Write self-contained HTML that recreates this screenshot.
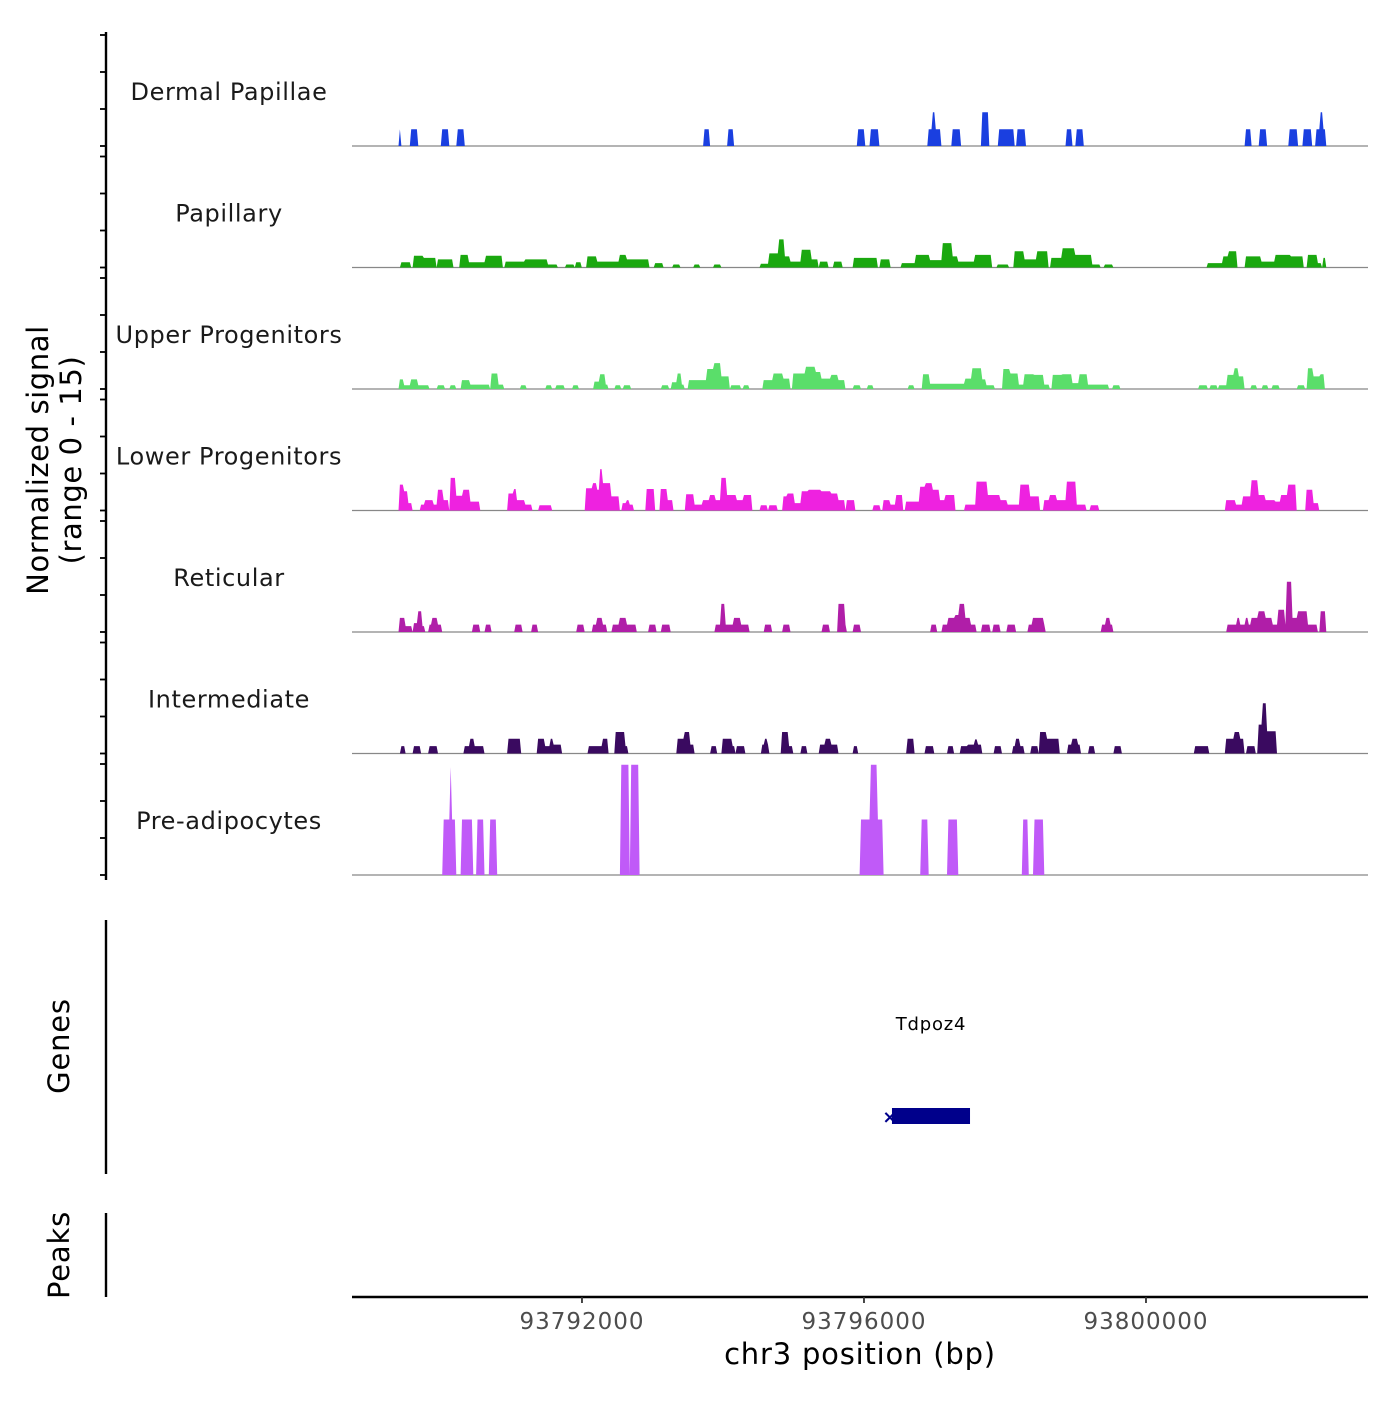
<!DOCTYPE html>
<html><head><meta charset="utf-8"><style>
body{margin:0;background:#fff}
svg text{font-family:"DejaVu Sans","Liberation Sans",sans-serif}
</style></head><body>
<svg id="chart" width="1400" height="1400" xmlns="http://www.w3.org/2000/svg">
<g id="tracks"></g>
<g id="axes"></g>
</svg>
<script>
const regionStart = 93788738;
const regionEnd = 93803149;
const xTicks = [93792000, 93796000, 93800000];
const xTickLabels = ["93792000", "93796000", "93800000"];
const trackNames = ["Dermal Papillae","Papillary","Upper Progenitors","Lower Progenitors","Reticular","Intermediate","Pre-adipocytes"];
const trackColors = ["#1a3fe0","#1aa80f","#5ade6a","#ee22e0","#b01ea8","#3a0a60","#c05af8"];
const yTickValues = [0,5,10,15];
// segments: [startOffsetBp, endOffsetBp, value]
const dermal = [[666,693,2.25],[832,925,2.25],[1276,1368,2.25],[1498,1600,2.25],[4993,5076,2.25],[5326,5418,2.25],[7175,7277,2.25],[7360,7462,2.25],[8164,8349,2.25],[8230,8280,4.55],[8506,8636,2.25],[8922,9033,4.55],[9172,9385,2.25],[9440,9542,2.25],[10134,10217,2.25],[10272,10365,2.25],[12667,12759,2.25],[12870,12963,2.25],[13296,13407,2.25],[13499,13601,2.25],[13675,13804,2.25],[13730,13780,4.55]];
const papillary = [[684,832,0.7],[878,1017,1.6],[1017,1183,1.3],[1220,1433,1.1],[1535,1646,1.7],[1646,1895,0.7],[1895,2127,1.6],[2173,2450,0.8],[2450,2774,1.1],[2774,2912,0.4],[3033,3144,0.4],[3162,3255,0.7],[3329,3467,1.5],[3467,3791,0.8],[3791,3883,1.7],[3883,4207,1.1],[4299,4420,0.6],[4549,4641,0.4],[4854,4928,0.4],[5132,5224,0.4],[5797,5917,0.5],[5917,6056,1.9],[6056,6121,3.8],[6121,6213,1.5],[6213,6380,0.8],[6380,6518,2.4],[6518,6611,1.1],[6639,6750,0.8],[6824,6953,0.8],[7101,7304,1.3],[7304,7443,1.3],[7489,7637,1.1],[7794,7998,0.6],[7998,8183,1.7],[8183,8368,1.0],[8368,8506,3.3],[8506,8599,1.5],[8599,8830,0.8],[8830,9061,1.7],[9154,9320,0.4],[9385,9524,2.2],[9524,9708,1.1],[9708,9875,2.2],[9912,10078,1.3],[10078,10245,2.6],[10245,10494,1.7],[10494,10614,0.4],[10679,10799,0.4],[12140,12343,0.6],[12343,12436,1.5],[12436,12547,2.2],[12667,12898,1.5],[12898,13083,0.8],[13083,13314,1.7],[13314,13481,1.5],[13545,13684,1.7],[13684,13758,0.6],[13777,13804,1.3]];
const upper = [[666,740,1.3],[740,832,0.5],[832,925,1.3],[925,1091,0.5],[1220,1313,0.5],[1387,1479,0.5],[1553,1664,1.2],[1664,1942,0.6],[1969,2080,2.1],[2080,2145,0.6],[2385,2478,0.5],[2746,2829,0.5],[2894,3005,0.5],[3125,3208,0.5],[3421,3513,1.0],[3513,3587,2.0],[3587,3634,0.6],[3726,3809,0.5],[3856,3957,0.5],[4392,4484,0.5],[4531,4605,0.9],[4605,4669,2.1],[4669,4715,0.6],[4780,5039,1.2],[5039,5132,2.7],[5132,5224,3.5],[5224,5344,1.7],[5363,5501,0.5],[5548,5640,0.5],[5825,5964,1.2],[5964,6102,2.1],[6102,6213,1.4],[6250,6426,2.1],[6426,6565,3.0],[6565,6657,2.3],[6657,6796,1.4],[6796,6888,1.9],[6888,6999,1.2],[7119,7212,0.5],[7304,7397,0.5],[7887,7979,0.5],[8099,8192,2.0],[8192,8691,0.7],[8691,8784,1.4],[8784,8922,2.8],[8922,8987,1.3],[8987,9107,0.5],[9228,9338,2.7],[9338,9449,2.1],[9449,9523,0.6],[9523,9662,2.0],[9662,9801,1.9],[9801,9893,0.6],[9939,10078,1.9],[10078,10217,2.0],[10217,10309,0.8],[10309,10429,2.0],[10429,10725,0.6],[10799,10892,0.5],[12020,12131,0.5],[12177,12279,0.5],[12297,12408,0.5],[12408,12501,1.9],[12501,12575,2.8],[12575,12649,1.7],[12741,12833,0.5],[12907,12991,0.5],[13055,13148,0.5],[13407,13518,0.5],[13545,13638,2.8],[13638,13731,1.7],[13731,13795,2.0]];
const lower = [[666,721,3.5],[721,786,2.6],[786,851,1.0],[962,1036,0.8],[1036,1156,1.4],[1156,1220,0.8],[1220,1294,2.8],[1294,1368,1.4],[1387,1479,4.4],[1479,1572,2.0],[1572,1664,2.8],[1664,1812,1.2],[2219,2293,2.3],[2293,2339,2.9],[2339,2450,1.4],[2450,2543,0.8],[2654,2829,0.7],[3301,3403,3.0],[3403,3467,3.7],[3467,3513,2.8],[3513,3560,5.6],[3560,3680,3.7],[3680,3791,1.9],[3828,3883,1.0],[3883,3930,1.4],[3930,3994,0.8],[4179,4299,2.9],[4373,4466,2.9],[4466,4549,1.4],[4734,4854,2.2],[4854,4974,0.8],[4974,5067,1.4],[5067,5159,2.1],[5159,5224,1.4],[5224,5316,4.4],[5316,5455,2.1],[5455,5548,1.4],[5548,5677,2.1],[5797,5899,0.7],[5917,6028,0.7],[6102,6176,1.9],[6176,6269,2.3],[6269,6380,1.0],[6380,6472,2.6],[6472,6657,2.8],[6657,6796,2.6],[6796,6888,2.3],[6888,6981,1.4],[7008,7138,1.4],[7397,7489,0.7],[7535,7628,1.4],[7628,7720,0.8],[7720,7813,2.1],[7841,8044,1.2],[8044,8136,3.2],[8136,8229,3.7],[8229,8321,2.8],[8321,8414,1.4],[8414,8543,2.1],[8691,8858,0.8],[8858,9015,3.9],[9015,9200,2.1],[9200,9292,1.4],[9292,9477,0.8],[9477,9616,3.5],[9616,9755,1.9],[9801,9893,1.4],[9893,9986,2.1],[9986,10124,1.4],[10124,10263,3.9],[10263,10402,0.8],[10476,10587,0.7],[12390,12528,1.4],[12528,12621,0.8],[12621,12759,1.9],[12759,12851,4.1],[12851,12944,2.1],[12944,13083,1.4],[13083,13176,1.2],[13176,13268,2.1],[13268,13388,3.5],[13527,13638,2.8],[13638,13712,1.0]];
const reticular = [[666,758,1.9],[758,851,0.8],[869,925,1.2],[925,999,2.8],[999,1036,0.8],[1082,1128,1.0],[1128,1220,1.9],[1220,1267,1.0],[1711,1803,1.0],[1895,1979,1.0],[2312,2404,1.0],[2543,2626,1.0],[3181,3292,1.0],[3403,3467,1.0],[3467,3560,1.9],[3560,3606,1.0],[3698,3791,1.0],[3791,3883,1.9],[3883,4022,1.0],[4216,4309,1.0],[4392,4512,1.0],[5150,5224,1.0],[5224,5289,3.8],[5289,5409,1.0],[5409,5520,1.9],[5520,5640,1.0],[5853,5945,1.0],[6102,6213,1.0],[6666,6768,1.0],[6888,6981,3.8],[6981,7008,1.0],[7119,7212,1.0],[8201,8294,1.0],[8368,8460,1.0],[8460,8553,1.9],[8553,8617,2.3],[8617,8691,3.8],[8691,8765,1.9],[8765,8858,1.0],[8932,9043,1.0],[9089,9191,1.0],[9292,9403,1.0],[9597,9644,1.0],[9644,9801,1.9],[9801,9838,1.0],[10633,10698,1.0],[10698,10744,1.9],[10744,10790,1.0],[12408,12759,1.0],[12547,12593,1.9],[12667,12704,1.9],[12759,12851,1.9],[12851,12944,2.8],[12944,13055,1.9],[13055,13129,1.0],[13129,13222,3.0],[13222,13249,1.0],[13249,13333,6.8],[13333,13407,1.9],[13407,13545,2.8],[13545,13684,1.0],[13740,13804,2.8]];
const intermediate = [[684,758,1.0],[869,971,1.0],[1091,1202,1.0],[1600,1664,1.0],[1664,1738,2.0],[1738,1877,1.0],[2219,2385,2.0],[2626,2737,2.0],[2737,2801,1.0],[2801,2848,2.0],[2848,2977,1.2],[3347,3560,1.0],[3560,3624,2.0],[3726,3865,2.9],[3865,3902,1.0],[4605,4715,2.0],[4715,4789,2.9],[4789,4854,1.2],[5085,5178,1.0],[5242,5381,2.0],[5381,5437,1.0],[5455,5566,1.0],[5806,5917,1.2],[5843,5899,2.0],[6084,6195,2.9],[6195,6241,1.0],[6380,6454,1.0],[6639,6888,1.2],[6703,6796,2.0],[7101,7175,1.0],[7878,7970,2.0],[8136,8247,1.0],[8442,8534,1.0],[8627,8737,1.0],[8737,8922,1.2],[8830,8876,1.9],[9107,9218,1.0],[9366,9523,1.0],[9412,9477,2.0],[9634,9727,1.0],[9755,9847,2.9],[9847,10032,2.0],[10152,10337,1.2],[10208,10282,2.0],[10448,10540,1.0],[10818,10910,1.0],[11946,12158,1.0],[12390,12501,2.0],[12501,12593,2.9],[12593,12649,2.0],[12686,12806,1.0],[12851,12907,3.9],[12907,12963,6.8],[12963,13101,3.0]];
const preadipocytes = [[1294,1479,7.5],[1390,1420,14.6],[1553,1711,7.5],[1775,1877,7.5],[1960,2053,7.5],[3809,3930,14.9],[3957,4077,14.9],[7212,7351,7.5],[7351,7443,14.9],[7443,7526,7.5],[8072,8164,7.5],[8460,8599,7.5],[9505,9597,7.5],[9672,9801,7.5]];
const geneName = "Tdpoz4";
const geneStart = 93796397;
const geneEnd = 93797504;

const NS = "http://www.w3.org/2000/svg";
const plotL = 352, plotR = 1368;
function xScale(bp){ return plotL + (bp - regionStart) / (regionEnd - regionStart) * (plotR - plotL); }
const baselines = [146, 267.5, 389, 510.5, 632, 753.5, 875];
const pxPerUnit = 7.4;
function yScale(v, t){ return baselines[t] - v * pxPerUnit; }
function mk(tag, attrs, parent){ const e = document.createElementNS(NS, tag); for (const k in attrs) e.setAttribute(k, attrs[k]); parent.appendChild(e); return e; }

const tracksG = document.getElementById('tracks');
const axesG = document.getElementById('axes');
const allData = [dermal, papillary, upper, lower, reticular, intermediate, preadipocytes];
const step = 20;
allData.forEach((segs, t) => {
  const g = mk('g', {}, tracksG);
  
  
  const lbl = mk('text', {x: 229, y: baselines[t] - 46, 'text-anchor': 'middle', 'font-size': 24, 'letter-spacing': 0.6, fill: '#1a1a1a'}, g);
  lbl.textContent = trackNames[t];
  
  
  const bl = mk('line', {x1: plotL, x2: plotR, y1: baselines[t], y2: baselines[t], stroke: '#888', 'stroke-width': 1.2}, g);
  
  
  const total = regionEnd - regionStart;
  const vals = [];
  for (let o = 0; o <= total; o += step) {
    let v = 0;
    segs.forEach(s => { if (o >= s[0] && o < s[1] && s[2] > v) v = s[2]; });
    vals.push(v);
  }
  let d = '';
  let i = 0;
  while (i < vals.length) {
    if (vals[i] > 0) {
      const s0 = Math.max(0, i - 1);
      d += 'M' + xScale(regionStart + s0 * step).toFixed(1) + ',' + baselines[t];
      while (i < vals.length && vals[i] > 0) {
        d += 'L' + xScale(regionStart + i * step).toFixed(1) + ',' + yScale(vals[i], t).toFixed(1);
        i++;
      }
      d += 'L' + xScale(regionStart + i * step).toFixed(1) + ',' + baselines[t] + 'Z';
    } else i++;
  }
  const p = mk('path', {d: d, fill: trackColors[t]}, g);
  
  
  yTickValues.forEach(v => {
    const y = yScale(v, t);
    const tk = mk('line', {x1: 100, x2: 106, y1: y, y2: y, stroke: '#000', 'stroke-width': 1.8}, axesG);
    
    
  });
});

const la = mk('line', {x1: 106, x2: 106, y1: 32, y2: 880, stroke: '#000', 'stroke-width': 2.4}, axesG);


const ga = mk('line', {x1: 106, x2: 106, y1: 920, y2: 1174, stroke: '#000', 'stroke-width': 2.4}, axesG);


const pa = mk('line', {x1: 106, x2: 106, y1: 1213, y2: 1297, stroke: '#000', 'stroke-width': 2.4}, axesG);



const yt = mk('text', {transform: 'translate(52,460) rotate(-90)', 'text-anchor': 'middle', 'font-size': 29, 'letter-spacing': 0.6, fill: '#000'}, axesG);


const t1 = mk('tspan', {x: 0, dy: -4}, yt); t1.textContent = 'Normalized signal';
const t2 = mk('tspan', {x: 0, dy: 33}, yt); t2.textContent = '(range 0 - 15)';
const gt = mk('text', {transform: 'translate(69,1046) rotate(-90)', 'text-anchor': 'middle', 'font-size': 29, 'letter-spacing': 0.8, fill: '#000'}, axesG);
gt.textContent = 'Genes';


const pt = mk('text', {transform: 'translate(69,1255) rotate(-90)', 'text-anchor': 'middle', 'font-size': 29, 'letter-spacing': 0.8, fill: '#000'}, axesG);
pt.textContent = 'Peaks';



const gx1 = xScale(geneStart), gx2 = xScale(geneEnd);
const gb = mk('rect', {x: gx1, y: 1108, width: gx2 - gx1, height: 16, fill: '#00008b'}, tracksG);


const gm = mk('text', {x: gx1 - 2, y: 1123, 'text-anchor': 'middle', 'font-size': 18, 'font-weight': 'bold', fill: '#00008b'}, tracksG);
gm.textContent = '×';


const gl = mk('text', {x: (gx1 + gx2) / 2, y: 1030, 'text-anchor': 'middle', 'font-size': 18, 'letter-spacing': 0.8, fill: '#000'}, tracksG);
gl.textContent = geneName;



const xa = mk('line', {x1: plotL, x2: plotR, y1: 1297, y2: 1297, stroke: '#000', 'stroke-width': 2.4}, axesG);


xTicks.forEach((v, i) => {
  const x = xScale(v);
  const tk = mk('line', {x1: x, x2: x, y1: 1297, y2: 1303, stroke: '#333', 'stroke-width': 1.8}, axesG);
  
  
  const tl = mk('text', {x: x, y: 1329, 'text-anchor': 'middle', 'font-size': 23, 'letter-spacing': 1, fill: '#4d4d4d'}, axesG);
  tl.textContent = xTickLabels[i];
  
  
});
const xt = mk('text', {x: 860, y: 1364, 'text-anchor': 'middle', 'font-size': 29, 'letter-spacing': 0.8, fill: '#000'}, axesG);
xt.textContent = 'chr3 position (bp)';


</script>
</body></html>
